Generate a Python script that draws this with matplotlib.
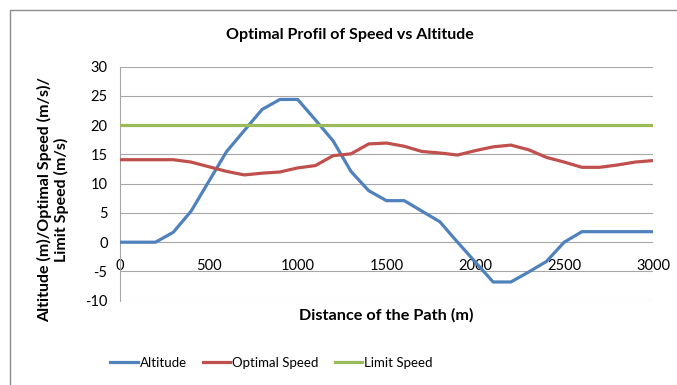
import matplotlib
matplotlib.use("Agg")
import matplotlib.pyplot as plt
from matplotlib.patches import Rectangle

plt.rcParams["font.family"] = ["Lato", "DejaVu Sans"]
plt.rcParams["axes.unicode_minus"] = False

distance = list(range(0, 3001, 100))
altitude = [0, 0, 0, 1.7, 5.3, 10.4, 15.5, 19.1, 22.7, 24.4, 24.4,
            20.9, 17.3, 12.1, 8.8, 7.1, 7.1, 5.3, 3.5, 0.0, -3.4,
            -6.8, -6.8, -5.1, -3.3, 0.0, 1.8, 1.8, 1.8, 1.8, 1.8]
optimal_speed = [14.1, 14.1, 14.1, 14.1, 13.7, 12.9, 12.1, 11.5, 11.8, 12.0, 12.7,
                 13.1, 14.8, 15.1, 16.8, 16.95, 16.4, 15.5, 15.25, 14.9, 15.65,
                 16.3, 16.6, 15.8, 14.5, 13.7, 12.8, 12.8, 13.2, 13.7, 13.95]
limit_speed = [20] * len(distance)

series = [
    ("Altitude", altitude, "#4F81BD"),
    ("Optimal Speed", optimal_speed, "#C0504D"),
    ("Limit Speed", limit_speed, "#9BBB59"),
]
y_ticks = [-10, -5, 0, 5, 10, 15, 20, 25, 30]
x_ticks = [0, 500, 1000, 1500, 2000, 2500, 3000]

W, H = 677, 385
fig = plt.figure(figsize=(W / 100, H / 100), dpi=100)
fig.patch.set_facecolor("white")

# chart-area frame (runs off the right and bottom edges)
fig.patches.append(Rectangle((10 / W, -0.05), 1.2, 1 - 10 / H + 0.05,
                             transform=fig.transFigure, fill=False,
                             edgecolor="#8c8c8c", linewidth=1.0))

ax = fig.add_axes([120 / W, 1 - 300.7 / H, (653 - 120) / W, (300.7 - 66.7) / H])
lines = []
for name, vals, color in series:
    ln, = ax.plot(distance, vals, color=color, linewidth=2.3, label=name,
                  solid_joinstyle="round", zorder=3)
    lines.append(ln)

ax.set_xlim(0, 3000)
ax.set_ylim(-10, 30)
ax.set_yticks(y_ticks)
ax.set_xticks(x_ticks)
ax.set_xticklabels([str(v) for v in x_ticks])
ax.set_yticklabels([str(v) for v in y_ticks])
ax.yaxis.grid(True, color="#a6a6a6", linewidth=0.8)
ax.set_axisbelow(True)
for s in ("top", "right"):
    ax.spines[s].set_visible(False)
ax.spines["left"].set_color("#a6a6a6")
ax.spines["left"].set_linewidth(0.8)
ax.spines["bottom"].set_position(("data", 0))
ax.spines["bottom"].set_visible(False)
ax.tick_params(axis="both", length=0, labelsize=10.5, colors="#000000")
ax.tick_params(axis="x", pad=12)
ax.tick_params(axis="y", pad=9)

fig.text(350 / W, 1 - 35 / H, "Optimal Profil of Speed vs Altitude",
         ha="center", va="center", fontsize=11.5, fontweight="bold")
fig.text(386 / W, 1 - 315 / H, "Distance of the Path (m)",
         ha="center", va="center", fontsize=11.7, fontweight="bold")
fig.text(53 / W, 1 - 200 / H, "Altitude (m)/Optimal Speed (m/s)/\nLimit Speed (m/s)",
         ha="center", va="center", rotation=90, fontsize=11.5,
         fontweight="bold", linespacing=1.15)

fig.legend(handles=lines, loc="center", bbox_to_anchor=(271.5 / W, 1 - 363 / H),
           ncol=3, frameon=False, fontsize=9.5, handlelength=2.1,
           handletextpad=0.15, columnspacing=1.2)

fig.savefig("out.png", dpi=100)
